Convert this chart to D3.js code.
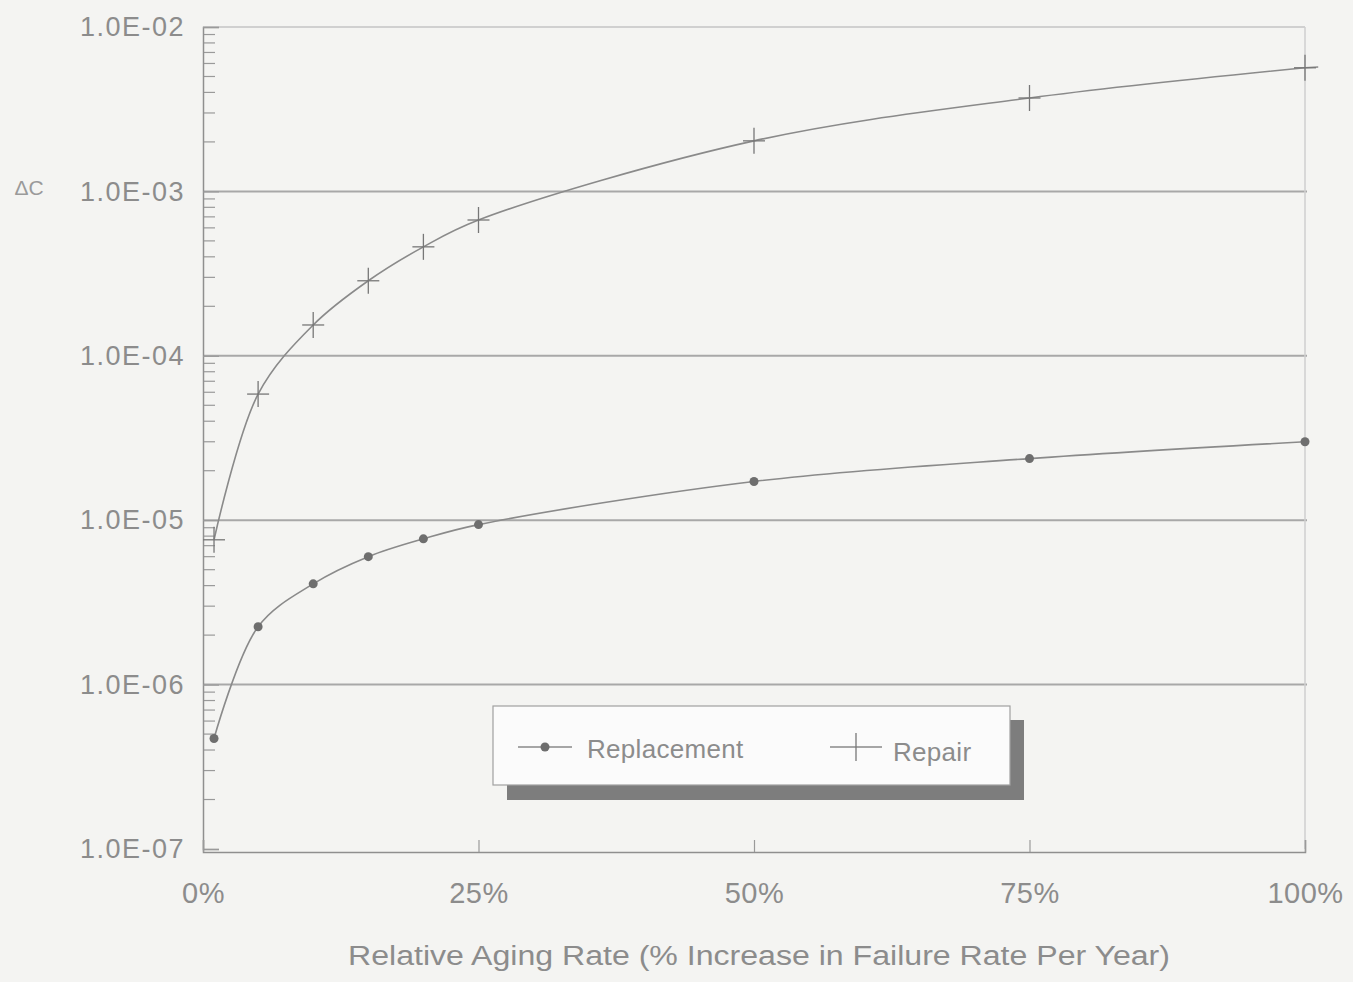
<!DOCTYPE html>
<html><head><meta charset="utf-8">
<script src="https://cdn.jsdelivr.net/npm/d3@7"></script>
<style>body{margin:0;background:#f4f4f2;} svg{display:block;}</style>
</head><body>
<svg id="chart" width="1353" height="982"></svg>
<script>
const rates = [1, 5, 10, 15, 20, 25, 50, 75, 100];
const replacement = [4.7e-7, 2.25e-6, 4.1e-6, 6.0e-6, 7.7e-6, 9.4e-6, 1.72e-5, 2.37e-5, 3.0e-5];
const repair = [7.6e-6, 5.85e-5, 1.54e-4, 2.86e-4, 4.6e-4, 6.7e-4, 2.03e-3, 3.7e-3, 5.65e-3];
const xTicks = [0, 25, 50, 75, 100];
const xTickLabels = ["0%", "25%", "50%", "75%", "100%"];
const yTicks = [1e-7, 1e-6, 1e-5, 1e-4, 1e-3, 1e-2];
const yTickLabels = ["1.0E-07", "1.0E-06", "1.0E-05", "1.0E-04", "1.0E-03", "1.0E-02"];
const seriesNames = ["Replacement", "Repair"];
const yLabel = "\u0394C";
const xTitle = "Relative Aging Rate (% Increase in Failure Rate Per Year)";

const svg = d3.select("#chart");
const L = 203, R = 1305, T = 27, B = 849;
const x = d3.scaleLinear().domain([0, 100]).range([L, R]);
const y = d3.scaleLog().domain([1e-7, 1e-2]).range([B, T]);
const txt = "#8c8c8c", lineC = "#8a8a8a";
const font = "'Liberation Sans', Arial, sans-serif";

svg.append("rect").attr("width", 1353).attr("height", 982).attr("fill", "#f4f4f2");

// decade gridlines
svg.append("g").selectAll("line").data(yTicks.slice(1, -1)).join("line")
  .attr("x1", L).attr("x2", R + 2).attr("y1", d => y(d)).attr("y2", d => y(d))
  .attr("stroke", "#a8a8a8").attr("stroke-width", 2);

// frame
svg.append("line").attr("x1", L).attr("x2", R).attr("y1", T).attr("y2", T).attr("stroke", "#c4c4c4").attr("stroke-width", 1.5);
svg.append("line").attr("x1", R).attr("x2", R).attr("y1", T).attr("y2", B).attr("stroke", "#cfcfcf").attr("stroke-width", 1.5);

// y axis with minor ticks inside
const minor = [];
for (let e = -7; e < -2; e++) for (let m = 2; m <= 9; m++) minor.push(m * Math.pow(10, e));
svg.append("g").selectAll("line").data(minor).join("line")
  .attr("x1", L).attr("x2", L + 12).attr("y1", d => y(d)).attr("y2", d => y(d))
  .attr("stroke", "#9a9a9a").attr("stroke-width", 1.2);
const yAxis = d3.axisLeft(y).tickValues(yTicks).tickFormat((d, i) => yTickLabels[i]).tickSize(-16).tickPadding(20);
const gy = svg.append("g").attr("transform", `translate(${L},0)`).call(yAxis);
gy.select(".domain").attr("stroke", "#8f8f8f").attr("stroke-width", 1.5);
gy.selectAll(".tick line").attr("stroke", "#9a9a9a").attr("stroke-width", 1.2);
gy.selectAll(".tick text").attr("fill", txt).attr("font-family", font).attr("font-size", 27)
  .attr("letter-spacing", 1.5).attr("x", -18);

// x axis
const xAxis = d3.axisBottom(x).tickValues(xTicks).tickFormat((d, i) => xTickLabels[i]).tickSize(-12).tickPadding(36);
const gx = svg.append("g").attr("transform", `translate(0,${B + 3})`).call(xAxis);
gx.select(".domain").attr("stroke", "#8f8f8f").attr("stroke-width", 1.5);
gx.selectAll(".tick line").attr("stroke", "#9a9a9a").attr("stroke-width", 1.2);
gx.selectAll(".tick text").attr("fill", txt).attr("font-family", font).attr("font-size", 29)
  .attr("letter-spacing", 0.5).attr("dy", "0.5em");

// axis labels
svg.append("text").attr("x", 29).attr("y", 195).attr("fill", "#9a9a9a").attr("font-family", font)
  .attr("font-size", 21).attr("text-anchor", "middle").text(yLabel);
svg.append("text").attr("x", 759).attr("y", 965).attr("fill", txt).attr("font-family", font)
  .attr("font-size", 27).attr("text-anchor", "middle").attr("textLength", 822)
  .attr("lengthAdjust", "spacingAndGlyphs").text(xTitle);

// lines
const line = d3.line().x(d => x(d[0])).y(d => y(d[1])).curve(d3.curveCatmullRom.alpha(0.5));
const repData = rates.map((r, i) => [r, replacement[i]]);
const repairData = rates.map((r, i) => [r, repair[i]]);
svg.append("path").datum(repData).attr("d", line).attr("fill", "none").attr("stroke", lineC).attr("stroke-width", 1.6);
svg.append("path").datum(repairData).attr("d", line).attr("fill", "none").attr("stroke", lineC).attr("stroke-width", 1.6);
svg.append("line").attr("x1", x(100)).attr("y1", y(repair[8])).attr("x2", x(101.2)).attr("y2", y(repair[8] * 1.01))
  .attr("stroke", lineC).attr("stroke-width", 1.6);

// markers
svg.append("g").selectAll("circle").data(repData).join("circle")
  .attr("cx", d => x(d[0])).attr("cy", d => y(d[1])).attr("r", 4.5).attr("fill", "#6e6e6e");
const crosses = svg.append("g").selectAll("g").data(repairData).join("g")
  .attr("transform", d => `translate(${x(d[0])},${y(d[1])})`);
crosses.append("line").attr("x1", -11).attr("x2", 11).attr("stroke", "#777").attr("stroke-width", 1.3);
crosses.append("line").attr("y1", -13).attr("y2", 13).attr("stroke", "#777").attr("stroke-width", 1.3);

// legend
const lg = svg.append("g");
lg.append("rect").attr("x", 507).attr("y", 720).attr("width", 517).attr("height", 80).attr("fill", "#7d7d7d");
lg.append("rect").attr("x", 493).attr("y", 706).attr("width", 517).attr("height", 79).attr("fill", "#fbfbfb")
  .attr("stroke", "#a0a0a0").attr("stroke-width", 1.2);
lg.append("line").attr("x1", 518).attr("x2", 572).attr("y1", 747).attr("y2", 747).attr("stroke", lineC).attr("stroke-width", 1.5);
lg.append("circle").attr("cx", 545).attr("cy", 747).attr("r", 4.5).attr("fill", "#6e6e6e");
lg.append("text").attr("x", 587).attr("y", 758).attr("fill", txt).attr("font-family", font).attr("font-size", 26)
  .attr("letter-spacing", 0.3).text(seriesNames[0]);
lg.append("line").attr("x1", 830).attr("x2", 882).attr("y1", 747).attr("y2", 747).attr("stroke", lineC).attr("stroke-width", 1.5);
lg.append("line").attr("x1", 856).attr("x2", 856).attr("y1", 733).attr("y2", 761).attr("stroke", "#777").attr("stroke-width", 1.3);
lg.append("text").attr("x", 893).attr("y", 761).attr("fill", txt).attr("font-family", font).attr("font-size", 26)
  .attr("letter-spacing", 0.3).text(seriesNames[1]);
</script>
</body></html>
